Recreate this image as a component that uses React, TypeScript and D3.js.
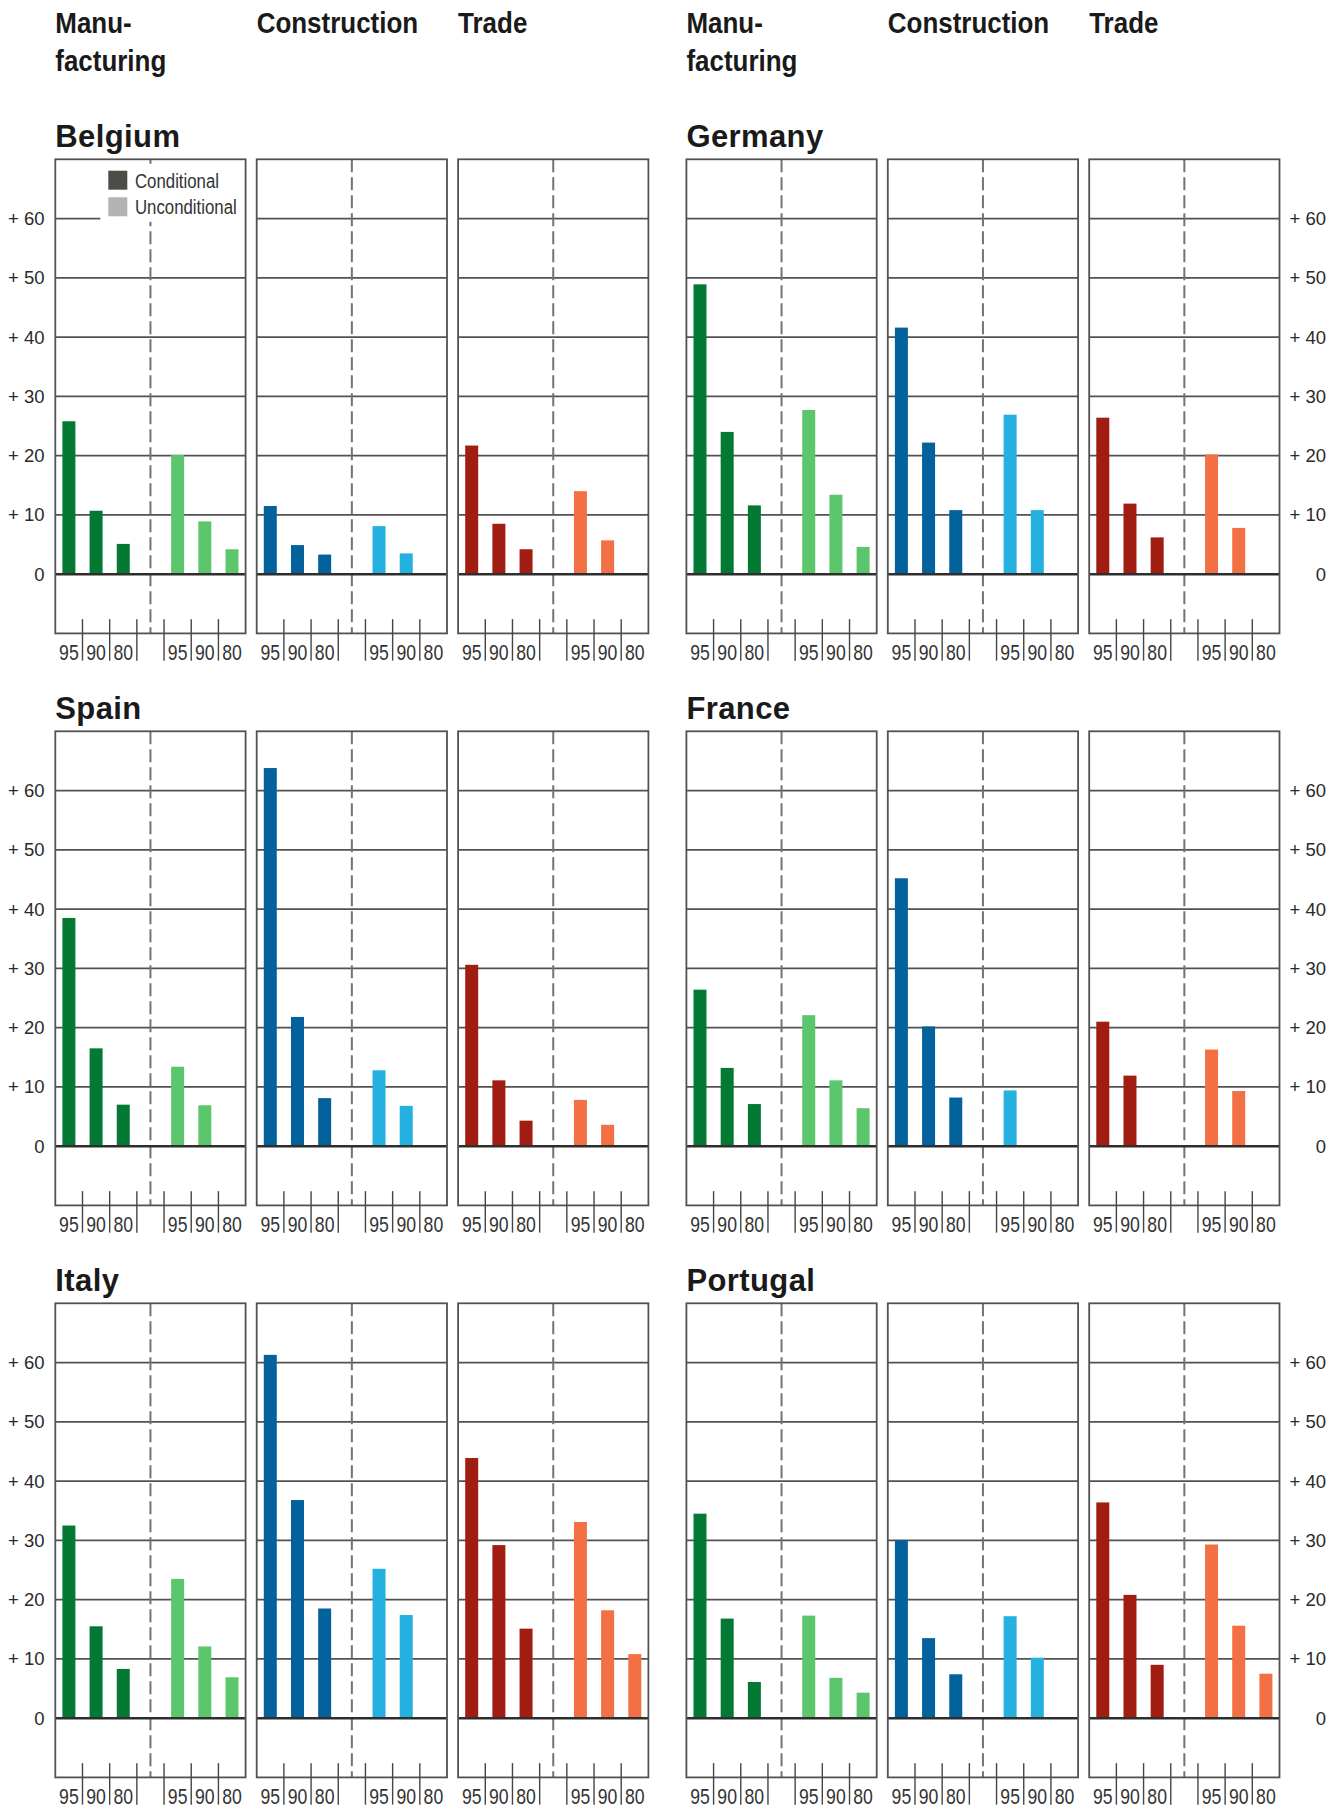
import React from "react";
import * as d3 from "d3";

// ---- data -------------------------------------------------------------
const countries = ["Belgium", "Germany", "Spain", "France", "Italy", "Portugal"];
const sectors = ["Manufacturing", "Construction", "Trade"];
const sectorHeader = [["Manu-", "facturing"], ["Construction"], ["Trade"]];
const years = ["95", "90", "80"];
const yTicks = [0, 10, 20, 30, 40, 50, 60];
const legendLabels = ["Conditional", "Unconditional"];

// [manufacturing, construction, trade] x [95, 90, 80]
const belgiumCond = [[25.8, 10.7, 5.1], [11.5, 4.9, 3.3], [21.7, 8.5, 4.2]];
const belgiumUncond = [[20.1, 8.9, 4.2], [8.1, 3.5, null], [14.0, 5.7, null]];
const germanyCond = [[48.9, 24.0, 11.6], [41.6, 22.2, 10.8], [26.4, 11.9, 6.2]];
const germanyUncond = [[27.7, 13.4, 4.6], [26.9, 10.8, null], [20.2, 7.8, null]];
const spainCond = [[38.5, 16.5, 7.0], [63.8, 21.8, 8.1], [30.6, 11.1, 4.3]];
const spainUncond = [[13.4, 6.9, null], [12.8, 6.8, null], [7.8, 3.6, null]];
const franceCond = [[26.4, 13.2, 7.1], [45.2, 20.2, 8.2], [21.0, 11.9, null]];
const franceUncond = [[22.1, 11.1, 6.4], [9.4, null, null], [16.3, 9.3, null]];
const italyCond = [[32.5, 15.5, 8.3], [61.3, 36.8, 18.5], [43.9, 29.2, 15.1]];
const italyUncond = [[23.5, 12.1, 6.9], [25.2, 17.4, null], [33.1, 18.2, 10.8]];
const portugalCond = [[34.5, 16.8, 6.1], [30.0, 13.5, 7.4], [36.4, 20.8, 9.0]];
const portugalUncond = [[17.3, 6.8, 4.3], [17.2, 10.2, null], [29.3, 15.6, 7.5]];

const condValues = [belgiumCond, germanyCond, spainCond, franceCond, italyCond, portugalCond];
const uncondValues = [belgiumUncond, germanyUncond, spainUncond, franceUncond, italyUncond, portugalUncond];

const condColors = ["#037934", "#03619b", "#a11d11"];
const uncondColors = ["#5cc66d", "#24b1e0", "#f37044"];
const legendColors = ["#4d4d48", "#b3b3b3"];

// ---- layout -----------------------------------------------------------
const W = 1341;
const H = 1809;
const groupLeft = [55.3, 686.4];
const panelStep = 201.4;
const panelW = 190.3;
const rowTop0 = 159.3;
const rowStep = 572;
const panelH = 474.1;
const FONT = "'Liberation Sans', Arial, Helvetica, sans-serif";
const GRID = "#525252";

function CText(props: {
  x: number; y: number; sx: number; anchor?: string; size: number;
  weight?: string | number; fill?: string; children: React.ReactNode;
}) {
  const { x, y, sx, anchor = "start", size, weight = "normal", fill = "#222", children } = props;
  return (
    <text
      transform={`translate(${x},${y}) scale(${sx},1)`}
      textAnchor={anchor}
      fontSize={size}
      fontWeight={weight}
      fill={fill}
      fontFamily={FONT}
    >
      {children}
    </text>
  );
}

function Panel(props: { ci: number; si: number; left: number; top: number; legend: boolean }) {
  const { ci, si, left, top, legend } = props;
  const y = d3.scaleLinear().domain([-10, 70]).range([top + panelH, top]);
  const x = d3.scaleLinear().domain([0, 7]).range([left, left + panelW]);
  const barW = 13;
  const zeroY = y(0);
  const cond = condValues[ci][si];
  const uncond = uncondValues[ci][si];
  const midX = x(3.5);
  const labelSlots = [0, 1, 2, 4, 5, 6];
  return (
    <g>
      {yTicks.filter((t) => t !== 0).map((t) => (
        <line key={t} x1={left} x2={left + panelW} y1={y(t)} y2={y(t)} stroke={GRID} strokeWidth={1.8} />
      ))}
      <line x1={midX} x2={midX} y1={top} y2={top + panelH} stroke="#737373" strokeWidth={2} strokeDasharray="13,5" />
      {cond.map((v, i) =>
        v == null ? null : (
          <rect key={"c" + i} x={x(i + 0.5) - barW / 2} width={barW} y={y(v)} height={zeroY - y(v)} fill={condColors[si]} />
        )
      )}
      {uncond.map((v, i) =>
        v == null ? null : (
          <rect key={"u" + i} x={x(i + 4.5) - barW / 2} width={barW} y={y(v)} height={zeroY - y(v)} fill={uncondColors[si]} />
        )
      )}
      <line x1={left} x2={left + panelW} y1={zeroY} y2={zeroY} stroke="#2e2e2e" strokeWidth={2.5} />
      {legend && (
        <g>
          <rect x={left + 45} y={top + 4.5} width={panelW - 45} height={58} fill="#fff" />
          {legendLabels.map((lab, i) => (
            <g key={lab}>
              <rect x={left + 53} y={top + 11.4 + i * 26.6} width={19} height={19} fill={legendColors[i]} />
              <CText x={left + 79.7} y={top + 29 + i * 26} sx={0.8} size={21} fill="#333">{lab}</CText>
            </g>
          ))}
        </g>
      )}
      <rect x={left} y={top} width={panelW} height={panelH} fill="none" stroke={GRID} strokeWidth={1.8} />
      {[1, 2, 3, 4, 5, 6].map((k) => (
        <line key={k} x1={x(k)} x2={x(k)} y1={zeroY + 45} y2={zeroY + 86.5} stroke="#444" strokeWidth={1.4} />
      ))}
      {labelSlots.map((s, j) => (
        <CText key={"l" + s} x={x(s + 0.5)} y={zeroY + 86} sx={0.82} size={21.5} anchor="middle" fill="#333">
          {years[j % 3]}
        </CText>
      ))}
    </g>
  );
}

export default function App() {
  const rows = [0, 1, 2];
  return (
    <div style={{ position: "absolute", left: 0, top: 0 }}>
      <svg width={W} height={H} style={{ display: "block", background: "#fff" }}>
        {groupLeft.map((gl, g) =>
          sectorHeader.map((lines, si) =>
            lines.map((ln, li) => (
              <CText key={`h${g}-${si}-${li}`} x={gl + si * panelStep} y={32.5 + li * 38.5} sx={0.88} size={29.5} weight="bold" fill="#1a1a1a">
                {ln}
              </CText>
            ))
          )
        )}
        {rows.map((r) => {
          const top = rowTop0 + r * rowStep;
          const y = d3.scaleLinear().domain([-10, 70]).range([top + panelH, top]);
          return (
            <g key={r}>
              {groupLeft.map((gl, g) => {
                const ci = r * 2 + g;
                return (
                  <g key={g}>
                    <text x={gl} y={top - 12.5} fontSize={31} fontWeight="bold" fill="#1a1a1a" fontFamily={FONT} letterSpacing={0.4}>
                      {countries[ci]}
                    </text>
                    {sectors.map((s, si) => (
                      <Panel key={s} ci={ci} si={si} left={gl + si * panelStep} top={top} legend={ci === 0 && si === 0} />
                    ))}
                  </g>
                );
              })}
              {yTicks.map((t) => (
                <g key={t}>
                  <text x={44.5} y={y(t) + 6.5} textAnchor="end" fontSize={18.5} fill="#2a2a2a" fontFamily={FONT}>
                    {t === 0 ? "0" : `+ ${t}`}
                  </text>
                  <text x={1326} y={y(t) + 6.5} textAnchor="end" fontSize={18.5} fill="#2a2a2a" fontFamily={FONT}>
                    {t === 0 ? "0" : `+ ${t}`}
                  </text>
                </g>
              ))}
            </g>
          );
        })}
      </svg>
    </div>
  );
}
